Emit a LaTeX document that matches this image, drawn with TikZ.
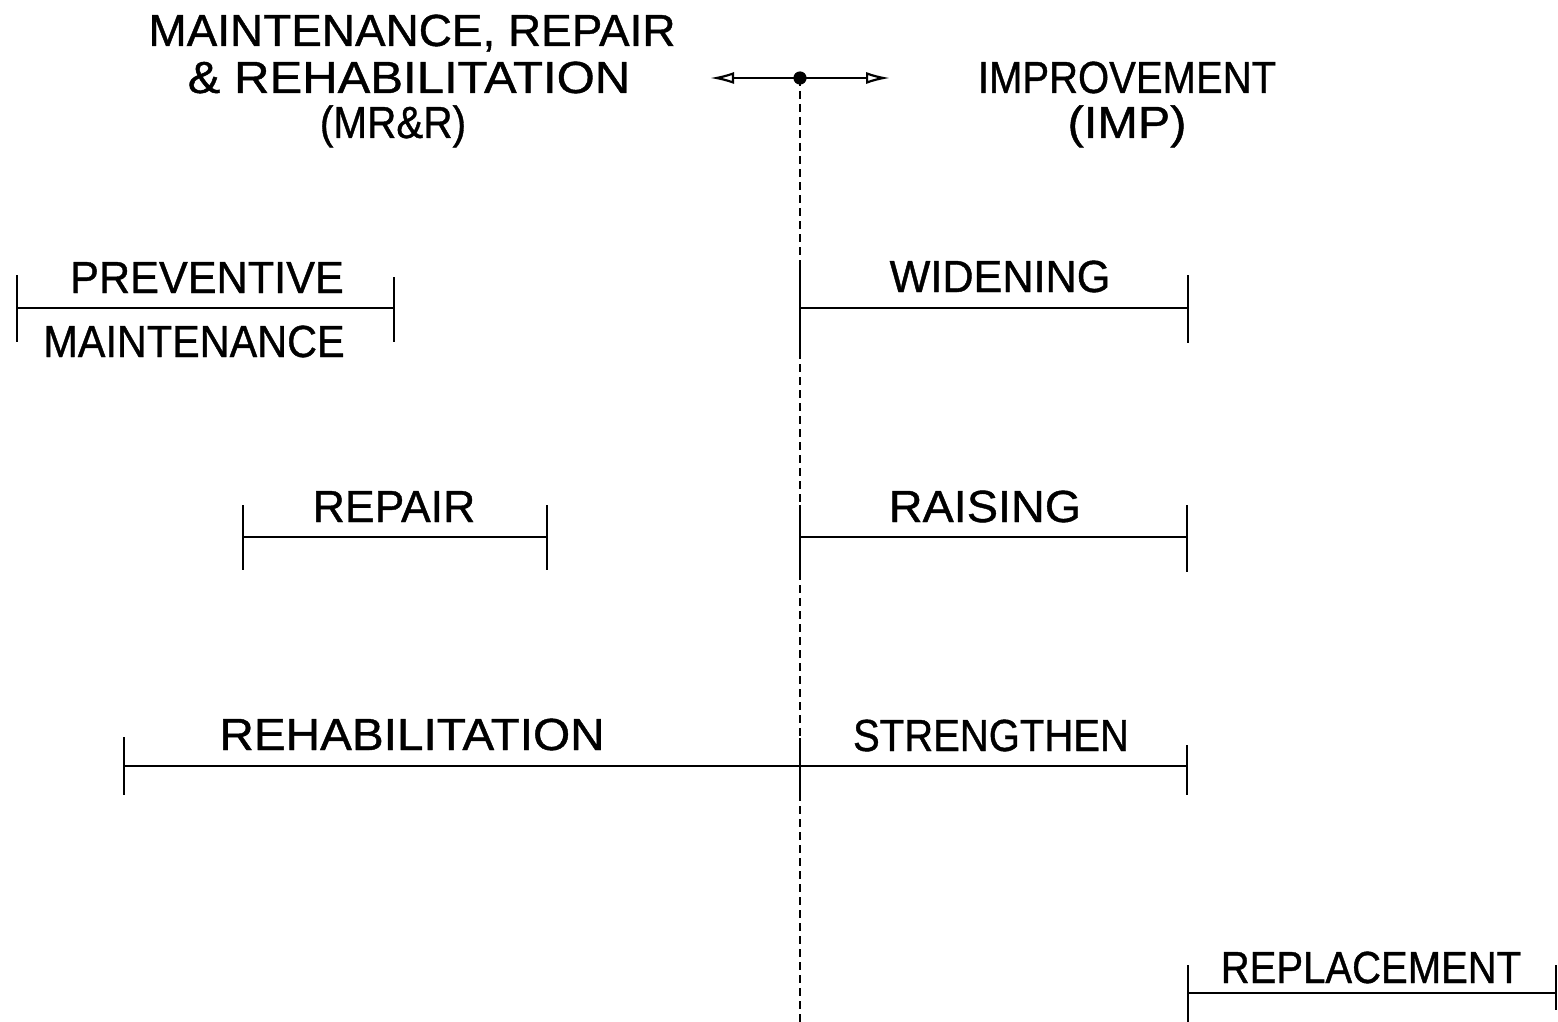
\documentclass[tikz,border=0pt]{standalone}
\usepackage{fontspec}
\usepackage{graphicx}
\newfontfamily\lblfont{Liberation Sans}[FakeBold=0.9]
\usetikzlibrary{arrows.meta}
\newcommand\sxs[2]{\scalebox{#1}[1]{#2}}
\begin{document}
\begin{tikzpicture}[x=0.5pt,y=-0.5pt,
  lbl/.style={anchor=base,inner sep=0pt,font=\fontsize{22.5}{27}\lblfont},
  bar/.style={line width=1.1pt},
  tick/.style={line width=1.1pt},
  axis/.style={line width=1.1pt,dash pattern=on 4pt off 2.5pt}]
\useasboundingbox (0,0) rectangle (1558,1022);
% titles
\node[lbl] (t1) at (412,46) {\sxs{1.02}{MAINTENANCE, REPAIR}};
\node[lbl] (t2) at (409,93) {\sxs{1.09}{\& REHABILITATION}};
\node[lbl] (t3) at (393,138) {\sxs{0.9}{(MR\&R)}};
\node[lbl] (t4) at (1127,93) {\sxs{0.89}{IMPROVEMENT}};
\node[lbl] (t5) at (1127,138) {\sxs{1.08}{(IMP)}};
% top arrow
\coordinate (c) at (800,78);
\coordinate (al) at (710,78);
\coordinate (ar) at (890,78);
\draw[line width=1.1pt,{Latex[open,length=12pt,width=6pt]}-{Latex[open,length=12pt,width=6pt]}] (al) -- (ar);
\fill (c) circle (3.3pt);
% central axis
\coordinate (bot) at (800,1022);
\draw[axis] (c) -- (bot);
% PREVENTIVE MAINTENANCE
\node[lbl] (pm1) at (207,293) {\sxs{0.96}{PREVENTIVE}};
\node[lbl] (pm2) at (194,357) {\sxs{0.92}{MAINTENANCE}};
\draw[tick] (17,275) -- (17,342);
\draw[tick] (394,277) -- (394,342);
\draw[bar] (17,308) -- (394,308);
% REPAIR
\node[lbl] (rp) at (394,522) {\sxs{0.99}{REPAIR}};
\draw[tick] (243,505) -- (243,570);
\draw[tick] (547,505) -- (547,570);
\draw[bar] (243,537) -- (547,537);
% REHABILITATION
\node[lbl] (rh) at (412,750) {\sxs{1.06}{REHABILITATION}};
\draw[tick] (124,737) -- (124,795);
\draw[bar] (124,766) -- (800,766);
% WIDENING
\node[lbl] (wd) at (1000,292) {\sxs{0.96}{WIDENING}};
\draw[tick] (800,265) -- (800,355);
\draw[tick] (1188,275) -- (1188,343);
\draw[bar] (800,308) -- (1188,308);
% RAISING
\node[lbl] (rs) at (985,522) {\sxs{1.04}{RAISING}};
\draw[tick] (800,505) -- (800,572);
\draw[tick] (1187,505) -- (1187,572);
\draw[bar] (800,537) -- (1187,537);
% STRENGTHEN
\node[lbl] (st) at (991,751) {\sxs{0.89}{STRENGTHEN}};
\draw[tick] (800,738) -- (800,795);
\draw[tick] (1187,745) -- (1187,795);
\draw[bar] (800,766) -- (1187,766);
% REPLACEMENT
\node[lbl] (rl) at (1371,983) {\sxs{0.89}{REPLACEMENT}};
\draw[tick] (1188,965) -- (1188,1022);
\draw[tick] (1556,965) -- (1556,1010);
\draw[bar] (1188,993) -- (1556,993);
\end{tikzpicture}
\end{document}
